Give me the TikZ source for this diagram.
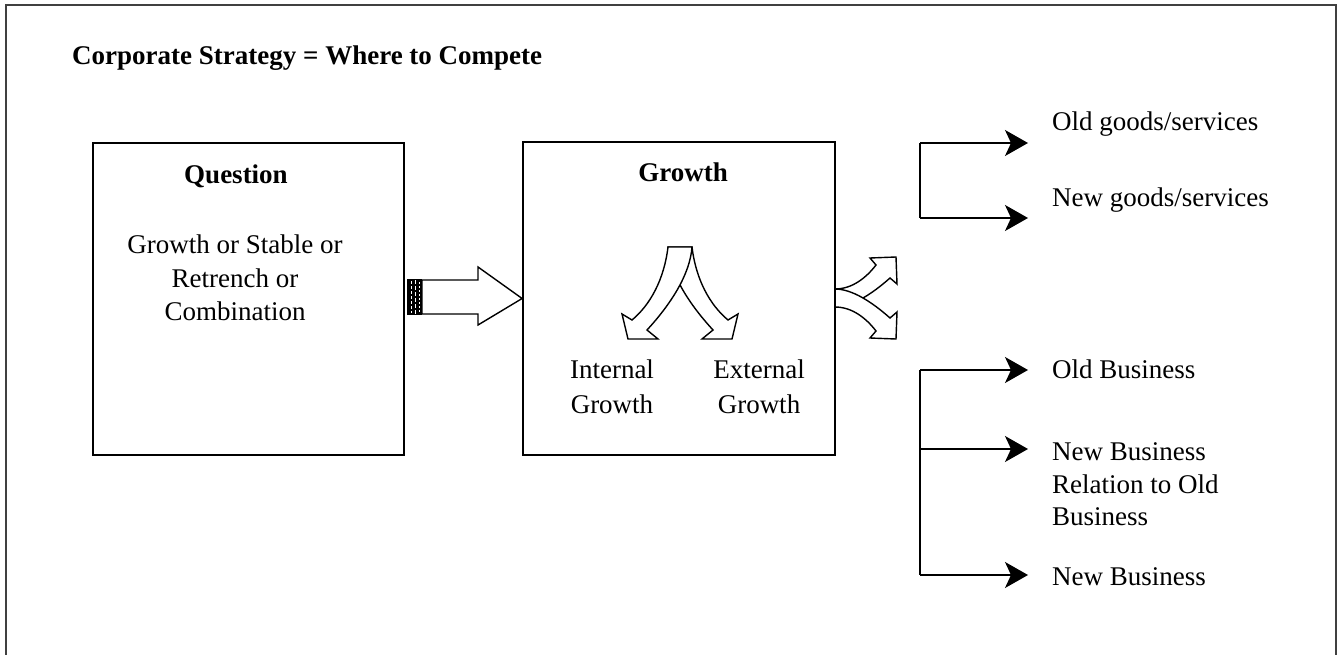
\documentclass[tikz,border=0pt]{standalone}
\usepackage{fontspec}
\setmainfont{Liberation Serif}
\usetikzlibrary{arrows.meta}
\begin{document}
\begin{tikzpicture}[x=1pt,y=-1pt,
  txt/.style={font=\fontsize{27}{34}\selectfont, inner sep=0pt},
  btxt/.style={font=\fontsize{27}{34}\selectfont\bfseries, inner sep=0pt},
  box/.style={draw, line width=1.8pt, inner sep=0pt},
  fat/.style={draw, line width=1.4pt, fill=white, line join=miter},
  brk/.style={line width=1.5pt, -{Stealth[length=23pt,width=26pt,inset=6pt]}},
  stem/.style={line width=1.5pt}]
\useasboundingbox (0,0) rectangle (1343,655);
% outer frame
\draw[line width=1.5pt, black!75] (6,660) -- (6,5) -- (1336,5) -- (1336,660);
% title
\node[btxt, anchor=base west] (title) at (72,65) {Corporate Strategy = Where to Compete};
% Question box
\node[box, minimum width=311pt, minimum height=312pt] (q) at (248.5,299) {};
\node[btxt, anchor=base] (qt) at (236,183) {Question};
\node[txt, anchor=base] (q1) at (235,253) {Growth or Stable or};
\node[txt, anchor=base] (q2) at (235,287) {Retrench or};
\node[txt, anchor=base] (q3) at (235,320) {Combination};
% Growth box
\node[box, minimum width=312pt, minimum height=313pt] (g) at (679,298.5) {};
\node[btxt, anchor=base] (gt) at (683,182) {Growth};
\node[txt, anchor=base] (i1) at (612,378) {Internal};
\node[txt, anchor=base] (i2) at (612,413) {Growth};
\node[txt, anchor=base] (e1) at (759,378) {External};
\node[txt, anchor=base] (e2) at (759,413) {Growth};
% block arrow between boxes
\fill (407,279) rectangle (422,315);
\draw[white, line width=0.8pt, dash pattern=on 3pt off 2pt] (411,281) -- (411,313);
\draw[white, line width=0.8pt, dash pattern=on 4pt off 2pt] (415,280) -- (415,314);
\draw[white, line width=0.8pt, dash pattern=on 2pt off 2pt] (419,282) -- (419,313);
\draw[fat] (422,280) -- (478,280) -- (478,267) -- (g.west) -- (478,325) -- (478,314) -- (422,314) -- cycle;
% split curved arrows inside Growth box
\draw[fat] (692,247) .. controls (696,280) and (710,305) .. (728,320) -- (738,314) -- (732,339) -- (702,339) -- (713,330) .. controls (690,305) and (670,275) .. (668,247) -- cycle;
\draw[fat] (668,247) .. controls (664,280) and (650,305) .. (632,320) -- (622,314) -- (628,339) -- (658,339) -- (647,330) .. controls (670,305) and (690,275) .. (692,247) -- cycle;
% fork arrow on Growth box right edge
\draw[fat] (835,289) .. controls (852,289) and (866,278) .. (876,265) -- (870,258) -- (896,257) -- (897,284) -- (890,278) .. controls (872,294) and (852,307) .. (835,307) -- cycle;
\draw[fat] (835,307) .. controls (852,307) and (866,318) .. (876,331) -- (870,338) -- (896,339) -- (897,312) -- (890,318) .. controls (872,302) and (852,289) .. (835,289) -- cycle;
\draw[line width=1.8pt] (835,142) -- (835,455);
% upper bracket
\coordinate (u1) at (920,143);
\coordinate (u2) at (920,218);
\coordinate (ua1) at (1028,143);
\coordinate (ua2) at (1028,218);
\draw[stem] (u1) -- (u2);
\draw[brk] (u1) -- (ua1);
\draw[brk] (u2) -- (ua2);
\node[txt, anchor=base west] (og) at (1052,131) {Old goods/services};
\node[txt, anchor=base west] (ng) at (1052,207) {New goods/services};
% lower bracket
\coordinate (l1) at (920,370);
\coordinate (l2) at (920,449);
\coordinate (l3) at (920,575);
\coordinate (la1) at (1028,370);
\coordinate (la2) at (1028,449);
\coordinate (la3) at (1028,575);
\draw[stem] (l1) -- (l3);
\draw[brk] (l1) -- (la1);
\draw[brk] (l2) -- (la2);
\draw[brk] (l3) -- (la3);
\node[txt, anchor=base west] (ob) at (1052,378) {Old Business};
\node[txt, anchor=base west] (nb1) at (1052,460) {New Business};
\node[txt, anchor=base west] (nb2) at (1052,493) {Relation to Old};
\node[txt, anchor=base west] (nb3) at (1052,525) {Business};
\node[txt, anchor=base west] (nb) at (1052,585) {New Business};
\end{tikzpicture}
\end{document}
